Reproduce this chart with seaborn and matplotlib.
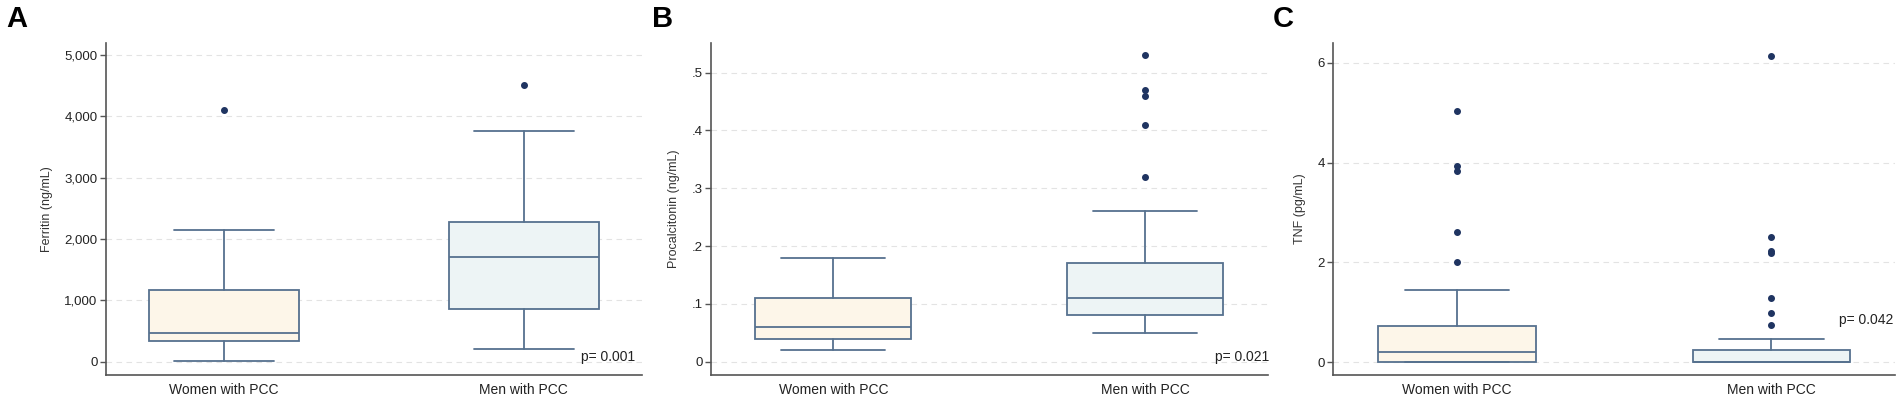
import matplotlib
matplotlib.use("Agg")
import matplotlib.pyplot as plt
import seaborn as sns
from matplotlib.ticker import FuncFormatter

sns.set_theme(style="white")
plt.rcParams['font.family'] = ['Liberation Sans', 'DejaVu Sans']

# Groups
groups = ["Women with PCC", "Men with PCC"]

# Panel A - Ferritin (ng/mL): whisker low, Q1, median, Q3, whisker high, outliers
ferritin_lo = [15, 207]
ferritin_q1 = [343, 866]
ferritin_med = [474, 1699]
ferritin_q3 = [1176, 2271]
ferritin_hi = [2146, 3758]
ferritin_out = [[4107], [4510]]

# Panel B - Procalcitonin (ng/mL)
pct_lo = [0.02, 0.05]
pct_q1 = [0.04, 0.08]
pct_med = [0.06, 0.11]
pct_q3 = [0.11, 0.17]
pct_hi = [0.18, 0.26]
pct_out = [[], [0.32, 0.41, 0.46, 0.47, 0.53]]

# Panel C - TNF (pg/mL)
tnf_lo = [0.0, 0.0]
tnf_q1 = [0.0, 0.0]
tnf_med = [0.21, 0.0]
tnf_q3 = [0.72, 0.25]
tnf_hi = [1.44, 0.47]
tnf_out = [[2.01, 2.61, 3.83, 3.94, 5.04], [0.74, 0.98, 1.29, 2.19, 2.23, 2.51, 6.14]]

# Colors
FILLS = ["#fdf6e9", "#edf4f5"]
EDGE = "#56718f"
DOT = "#1f3461"
SPINE = "#555555"


def make_stats(lo, q1, med, q3, hi, out):
    return [dict(label=g, whislo=lo[i], q1=q1[i], med=med[i], q3=q3[i],
                 whishi=hi[i], fliers=out[i]) for i, g in enumerate(groups)]


def comma_fmt(v, pos):
    return f"{int(round(v)):,}"


def dot_fmt(v, pos):
    if abs(v) < 1e-9:
        return "0"
    return f"{v:.1f}".lstrip("0")


panels = [
    dict(letter="A", stats=make_stats(ferritin_lo, ferritin_q1, ferritin_med, ferritin_q3, ferritin_hi, ferritin_out),
         ylabel="Ferritin (ng/mL)", yticks=[0, 1000, 2000, 3000, 4000, 5000], ylim=(-217, 5204),
         fmt=comma_fmt, p="p= 0.001", px=0.988, py=0.053, rect=[0.0557, 0.1007, 0.2817, 0.7973], lx=6),
    dict(letter="B", stats=make_stats(pct_lo, pct_q1, pct_med, pct_q3, pct_hi, pct_out),
         ylabel="Procalcitonin (ng/mL)", yticks=[0, 0.1, 0.2, 0.3, 0.4, 0.5], ylim=(-0.023, 0.552),
         fmt=dot_fmt, p="p= 0.021", px=1.003, py=0.053, rect=[0.3737, 0.1007, 0.2930, 0.7973], lx=652),
    dict(letter="C", stats=make_stats(tnf_lo, tnf_q1, tnf_med, tnf_q3, tnf_hi, tnf_out),
         ylabel="TNF (pg/mL)", yticks=[0, 2, 4, 6], ylim=(-0.254, 6.405),
         fmt=lambda v, pos: f"{v:g}", p="p= 0.042", px=0.998, py=0.164, rect=[0.7010, 0.1007, 0.2953, 0.7973], lx=1273),
]

fig = plt.figure(figsize=(19.02, 4.17), dpi=100)

for pn in panels:
    ax = fig.add_axes(pn["rect"])
    bp = ax.bxp(pn["stats"], positions=[0, 1], widths=0.5, capwidths=0.333,
                patch_artist=True, showfliers=True,
                boxprops=dict(edgecolor=EDGE, linewidth=1.3),
                medianprops=dict(color=EDGE, linewidth=1.3),
                whiskerprops=dict(color=EDGE, linewidth=1.3),
                capprops=dict(color=EDGE, linewidth=1.3),
                flierprops=dict(marker="o", markersize=4, markerfacecolor=DOT,
                                markeredgecolor=DOT, linestyle="none"))
    for patch, c in zip(bp["boxes"], FILLS):
        patch.set_facecolor(c)

    ax.set_xlim(-0.393, 1.393)
    ax.set_ylim(*pn["ylim"])
    ax.set_yticks(pn["yticks"])
    ax.yaxis.set_major_formatter(FuncFormatter(pn["fmt"]))
    ax.set_xticks([0, 1])
    ax.set_xticklabels(groups, fontsize=10, color="#222222")
    ax.tick_params(axis="x", length=0, pad=6)
    ax.tick_params(axis="y", length=4, width=1, color=SPINE, labelsize=9.5,
                   labelcolor="#222222", pad=2, left=True)
    ax.set_ylabel(pn["ylabel"], fontsize=9, color="#333333", labelpad=8)

    ax.grid(axis="y", color="#e3e3e3", linestyle=(0, (5, 4)), linewidth=0.8)
    ax.set_axisbelow(True)
    sns.despine(ax=ax)
    for s in ["left", "bottom"]:
        ax.spines[s].set_color(SPINE)
        ax.spines[s].set_linewidth(1.2)

    ax.text(pn["px"], pn["py"], pn["p"], transform=ax.transAxes, ha="right",
            va="center", fontsize=10, color="#222222")
    fig.text(pn["lx"] / 1902, 1 - 5 / 417, pn["letter"], ha="left", va="top",
             fontsize=21, fontweight="bold", color="black")

fig.savefig("out.png", dpi=100)
